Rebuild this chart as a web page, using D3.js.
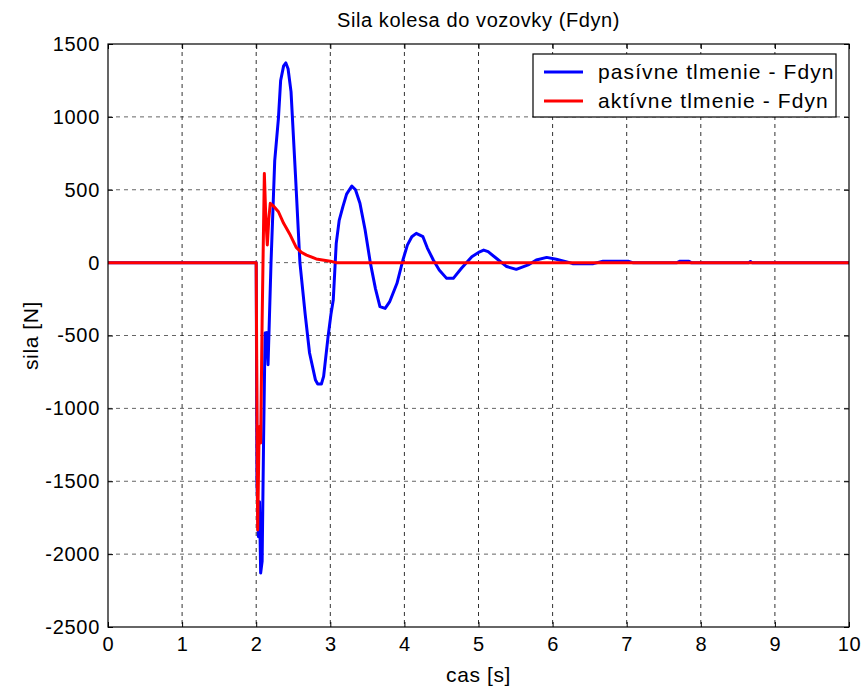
<!DOCTYPE html>
<html>
<head>
<meta charset="utf-8">
<script src="https://cdn.jsdelivr.net/npm/d3@7"></script>
<style>
  body { margin: 0; background: #fff; }
  text { font-family: "Liberation Sans", Arial, sans-serif; fill: #000; }
</style>
</head>
<body>
<svg id="chart" width="865" height="691"></svg>
<script>
// time [s] and force [N]
var pasivneT = [0, 2.0, 2.01, 2.03, 2.045, 2.06, 2.08, 2.10, 2.12, 2.14, 2.16, 2.20, 2.25, 2.30, 2.33, 2.37, 2.40, 2.43, 2.47, 2.53, 2.59, 2.66, 2.72, 2.80, 2.83, 2.88, 2.91, 2.97, 3.01, 3.04, 3.08, 3.12, 3.17, 3.22, 3.29, 3.34, 3.40, 3.47, 3.54, 3.61, 3.67, 3.74, 3.80, 3.90, 3.98, 4.04, 4.10, 4.16, 4.25, 4.31, 4.39, 4.47, 4.57, 4.66, 4.77, 4.91, 5.00, 5.07, 5.13, 5.24, 5.38, 5.51, 5.67, 5.78, 5.92, 6.05, 6.23, 6.27, 6.55, 6.68, 7.02, 7.08, 7.68, 7.72, 7.84, 7.87, 8.65, 8.67, 8.69, 10];
var pasivneF = [0, 0, -1500, -1880, -1640, -2130, -2050, -1200, -483, -480, -700, 0, 700, 990, 1250, 1350, 1370, 1330, 1173, 600, 0, -350, -620, -806, -833, -833, -780, -508, -350, -257, 132, 290, 384, 470, 526, 500, 407, 224, 0, -180, -302, -314, -270, -142, 18, 120, 178, 201, 178, 100, 18, -50, -108, -108, -39, 41, 70, 86, 75, 30, -27, -46, -16, 18, 36, 23, 0, -7, -7, 9, 9, 0, 0, 10, 10, 0, 0, 8, 0, 0];

var aktivneT = [0, 2.0, 2.01, 2.02, 2.04, 2.06, 2.08, 2.11, 2.13, 2.15, 2.17, 2.19, 2.23, 2.30, 2.37, 2.46, 2.54, 2.61, 2.68, 2.81, 3.0, 3.08, 10];
var aktivneF = [0, 0, -1000, -1835, -1126, -1238, -400, 612, 300, 121, 300, 407, 390, 349, 270, 189, 105, 70, 52, 25, 10, 0, 0];

var xTicks = [0, 1, 2, 3, 4, 5, 6, 7, 8, 9, 10];
var yTicks = [-2500, -2000, -1500, -1000, -500, 0, 500, 1000, 1500];
var legendNames = ["pasívne tlmenie - Fdyn", "aktívne tlmenie - Fdyn"];
var colors = ["#0000ff", "#ff0000"];

var svg = d3.select("#chart");
var pL = 108, pR = 849, pT = 44, pB = 627;

var x = d3.scaleLinear().domain([0, 10]).range([pL, pR]);
var y = d3.scaleLinear().domain([-2500, 1500]).range([pB, pT]);

// grid
svg.append("g").selectAll("line")
  .data(xTicks.slice(1, -1))
  .enter().append("line")
  .attr("x1", d => x(d)).attr("x2", d => x(d))
  .attr("y1", pT).attr("y2", pB)
  .attr("stroke", "#000").attr("stroke-width", 1)
  .attr("stroke-dasharray", "4,4").attr("opacity", 0.8);
svg.append("g").selectAll("line")
  .data(yTicks.slice(1, -1))
  .enter().append("line")
  .attr("x1", pL).attr("x2", pR)
  .attr("y1", d => y(d)).attr("y2", d => y(d))
  .attr("stroke", "#000").attr("stroke-width", 1)
  .attr("stroke-dasharray", "4,4").attr("opacity", 0.6);

// axes (ticks inside, on all four sides)
var fmt = d => String(d);  // plain hyphen like matlab
svg.append("g").attr("transform", "translate(0," + pB + ")")
  .call(d3.axisBottom(x).tickValues(xTicks).tickFormat(fmt).tickSizeInner(-5).tickSizeOuter(0).tickPadding(10))
  .call(g => g.select(".domain").remove());
svg.append("g").attr("transform", "translate(0," + pT + ")")
  .call(d3.axisTop(x).tickValues(xTicks).tickFormat("").tickSizeInner(-5).tickSizeOuter(0))
  .call(g => g.select(".domain").remove());
svg.append("g").attr("transform", "translate(" + pL + ",0)")
  .call(d3.axisLeft(y).tickValues(yTicks).tickFormat(fmt).tickSizeInner(-5).tickSizeOuter(0).tickPadding(8))
  .call(g => g.select(".domain").remove());
svg.append("g").attr("transform", "translate(" + pR + ",0)")
  .call(d3.axisRight(y).tickValues(yTicks).tickFormat("").tickSizeInner(-5).tickSizeOuter(0))
  .call(g => g.select(".domain").remove());
svg.selectAll(".tick text")
  .style("font-size", "20px")
  .style("letter-spacing", "0.7px")
  .style("font-family", "Liberation Sans, Arial, sans-serif");
svg.selectAll(".tick line").attr("stroke", "#000");

// data lines
var line = d3.line().x(d => x(d[0])).y(d => y(d[1]));
var series = [
  d3.zip(pasivneT, pasivneF),
  d3.zip(aktivneT, aktivneF)
];
svg.append("g").selectAll("path")
  .data(series)
  .enter().append("path")
  .attr("d", line)
  .attr("fill", "none")
  .attr("stroke", (d, i) => colors[i])
  .attr("stroke-width", 3)
  .attr("stroke-linejoin", "round");

// box
svg.append("rect")
  .attr("x", pL).attr("y", pT)
  .attr("width", pR - pL).attr("height", pB - pT)
  .attr("fill", "none").attr("stroke", "#000").attr("stroke-width", 1.2);

// title + labels
svg.append("text").attr("x", (pL + pR) / 2).attr("y", 27)
  .attr("text-anchor", "middle").style("font-size", "20px").style("letter-spacing", "0.6px")
  .text("Sila kolesa do vozovky (Fdyn)");
svg.append("text").attr("x", (pL + pR) / 2).attr("y", 682)
  .attr("text-anchor", "middle").style("font-size", "21px").style("letter-spacing", "0.6px")
  .text("cas [s]");
svg.append("text")
  .attr("transform", "translate(38," + (y(-500)) + ") rotate(-90)")
  .attr("text-anchor", "middle").style("font-size", "21px").style("letter-spacing", "0.6px")
  .text("sila [N]");

// legend
var leg = svg.append("g");
leg.append("rect")
  .attr("x", 533).attr("y", 54).attr("width", 303).attr("height", 63)
  .attr("fill", "#fff").attr("stroke", "#000").attr("stroke-width", 1.2);
legendNames.forEach(function(name, i) {
  var ly = 72 + i * 29;
  leg.append("line")
    .attr("x1", 544).attr("x2", 583).attr("y1", ly).attr("y2", ly)
    .attr("stroke", colors[i]).attr("stroke-width", 3);
  leg.append("text")
    .attr("x", 598).attr("y", ly + 7)
    .style("font-size", "21px").style("letter-spacing", "1.1px")
    .text(name);
});
</script>
</body>
</html>
